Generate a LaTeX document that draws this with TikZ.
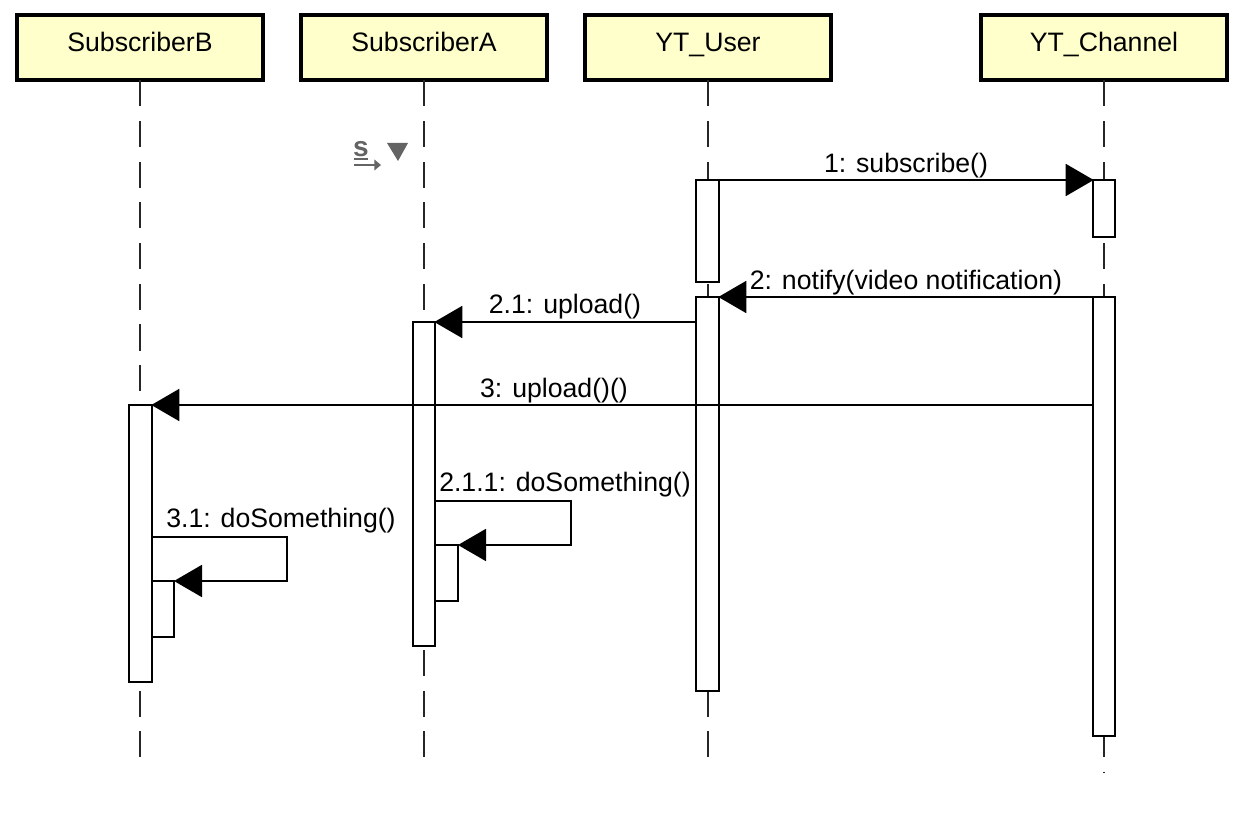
\documentclass[tikz,border=0pt]{standalone}
\usepackage{fontspec}
\setmainfont{Liberation Sans}
\usetikzlibrary{arrows.meta}
\definecolor{headyellow}{RGB}{255,255,204}
\definecolor{icongray}{RGB}{100,100,100}
\def\px{0.75pt}
\tikzset{
    head/.style={draw, line width=3pt, fill=headyellow, inner sep=0pt, outer sep=0pt,
        minimum width=246*\px, minimum height=65*\px, text height=16pt, text depth=10pt},
    actbox/.style={draw, line width=1.5pt, fill=white, inner sep=0pt, outer sep=0pt,
        minimum width=22*\px},
    lifeline/.style={line width=1.4pt, draw=black!85, dash pattern=on 19.5pt off 11pt},
    msg/.style={line width=1.5pt, -{Triangle[length=21pt,width=24pt]}, shorten >=-0.5pt},
    selfmsg/.style={line width=1.5pt, -{Triangle[length=21pt,width=24pt]}},
    msglabel/.style={text height=15pt, text depth=2pt, inner sep=0pt},
}
\begin{document}
\begin{tikzpicture}[x=\px, y=-\px, line width=1.5pt]
    \tikzstyle{every node}=[font=\fontsize{20}{24}\selectfont]
    \useasboundingbox (0,0) rectangle (1258,820);

    \node[head] (subb) at (140, 48) {SubscriberB};
    \node[head] (suba) at (424, 48) {SubscriberA};
    \node[head] (user) at (708, 48) {YT\_User};
    \node[head] (chan) at (1104, 48) {YT\_Channel};

    \coordinate (subbend) at (140, 757);
    \coordinate (subaend) at (424, 757);
    \coordinate (userend) at (708, 757);
    \coordinate (chanend) at (1104, 772);

    \draw[lifeline] (subb.south) -- (subbend);
    \draw[lifeline] (suba.south) -- (subaend);
    \draw[lifeline] (user.south) -- (userend);
    \draw[lifeline] (chan.south) -- (chanend);

    %activations
    \node[actbox, minimum width=23*\px, minimum height=102*\px] (usera) at (707.5, 231) {};
    \node[actbox, minimum width=23*\px, minimum height=394*\px] (userb) at (707.5, 494) {};
    \node[actbox, minimum height=57*\px] (chana) at (1104, 208.5) {};
    \node[actbox, minimum height=439*\px] (chanb) at (1104, 516.5) {};
    \node[actbox, minimum height=324*\px] (subaa) at (424, 484) {};
    \node[actbox, minimum width=23*\px, minimum height=277*\px] (subba) at (140.5, 543.5) {};
    \node[actbox, minimum width=23*\px, minimum height=56*\px] (subab) at (446.5, 573) {};
    \node[actbox, minimum height=56*\px] (subbb) at (163, 609) {};

    %messages
    \draw[msg] (usera.north east) -- (chana.north west);
    \draw[msg] (chanb.north west) -- (userb.north east);
    \draw[msg] (userb.west |- subaa.north) -- (subaa.north east);
    \draw[msg] (chanb.west |- subba.north) -- (subba.north east);

    \coordinate (subaout) at (subaa.east |- 0, 501);
    \coordinate (subaturn) at (571, 501);
    \draw[selfmsg] (subaout) -- (subaturn) -- (subaturn |- subab.north) -- (subab.north east);
    \coordinate (subbout) at (subba.east |- 0, 537);
    \coordinate (subbturn) at (287, 537);
    \draw[selfmsg] (subbout) -- (subbturn) -- (subbturn |- subbb.north) -- (subbb.north east);

    %labels
    \node[msglabel] (subscribelabel) at (906, 164) {1: subscribe()};
    \node[msglabel] (notifylabel) at (906, 281) {2: notify(video notification)};
    \node[msglabel] (uploadlabel) at (565, 305) {2.1: upload()};
    \node[msglabel] (uploadtwolabel) at (554, 389) {3: upload()()};
    \node[msglabel] (somethinglabel) at (565, 483) {2.1.1: doSomething()};
    \node[msglabel] (somethingtwolabel) at (281, 519) {3.1: doSomething()};

    %icon
    \node[text=icongray, font=\fontsize{21}{22}\bfseries\selectfont, inner sep=0pt] (iconletter) at (361, 149) {s};
    \coordinate (iconlinea) at (354, 159);
    \coordinate (iconlineb) at (368, 159);
    \draw[icongray, line width=1.8pt] (iconlinea) -- (iconlineb);
    \coordinate (iconarrowa) at (354, 165);
    \coordinate (iconarrowb) at (381, 165);
    \draw[icongray, line width=2pt, -{Triangle[length=5pt,width=8pt]}] (iconarrowa) -- (iconarrowb);
    \fill[icongray] (387, 143) -- (408, 143) -- (398, 161) -- cycle;
\end{tikzpicture}
\end{document}
